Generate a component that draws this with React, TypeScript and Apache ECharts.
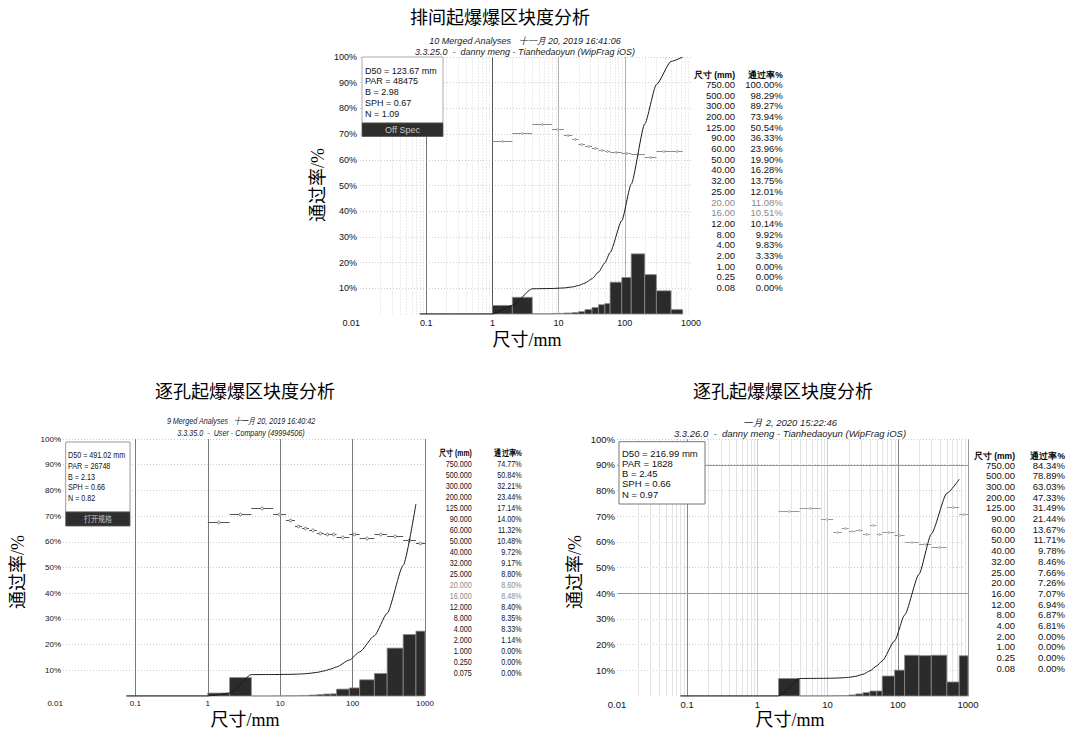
import React, { useEffect, useRef } from 'react';
import * as echarts from 'echarts';

// ---------- shared text ----------
const xTickLabels = ['0.01', '0.1', '1', '10', '100', '1000'];
const tableHeader = ['尺寸 (mm)', '通过率%'];
const axisNameY = '通过率/%';
const axisNameX = '尺寸/mm';
const minorDecades = [0.01, 0.1, 1, 10, 100];
const minorMultipliers = [2, 3, 4, 5, 6, 7, 8, 9];

// ---------- top panel (排间起爆) ----------
const topTitle = '排间起爆爆区块度分析';
const topSub = ['10 Merged Analyses   十一月 20, 2019 16:41:06', '3.3.25.0  -  danny meng - Tianhedaoyun (WipFrag iOS)'];
const topStats = ['D50 = 123.67 mm', 'PAR = 48475', 'B = 2.98', 'SPH = 0.67', 'N = 1.09'];
const topBadge = 'Off Spec';
const topSizes = [750, 500, 300, 200, 125, 90, 60, 50, 40, 32, 25, 20, 16, 12, 8, 4, 2, 1, 0.25, 0.08];
const topPassing = [100, 98.29, 89.27, 73.94, 50.54, 36.33, 23.96, 19.9, 16.28, 13.75, 12.01, 11.08, 10.51, 10.14, 9.92, 9.83, 3.33, 0, 0, 0];
const topBinEdges = [0.08, 0.25, 1, 2, 4, 8, 12, 16, 20, 25, 32, 40, 50, 60, 90, 125, 200, 300, 500, 750];
const topBinHeights = [0, 0, 3.33, 6.5, 0.09, 0.22, 0.37, 0.57, 0.93, 1.74, 2.53, 3.62, 4.06, 12.37, 14.21, 23.4, 15.33, 9.02, 1.71];
const topShape = [null, null, 67.3, 70.3, 73.9, 71.9, 69.6, 68.0, 66.1, 65.4, 64.4, 63.7, 63.3, 63.0, 62.7, 62.1, 60.9, 63.4, 63.4];

// ---------- bottom-left panel (逐孔起爆, 9 merged) ----------
const blTitle = '逐孔起爆爆区块度分析';
const blSub = ['9 Merged Analyses   十一月 20, 2019 16:40:42', '3.3.35.0  -  User - Company (49994506)'];
const blStats = ['D50 = 491.02 mm', 'PAR = 26748', 'B = 2.13', 'SPH = 0.66', 'N = 0.82'];
const blBadge = '打开规格';
const blSizes = [750, 500, 300, 200, 125, 90, 60, 50, 40, 32, 25, 20, 16, 12, 8, 4, 2, 1, 0.25, 0.075];
const blPassing = [74.77, 50.84, 32.21, 23.44, 17.14, 14.0, 11.32, 10.48, 9.72, 9.17, 8.8, 8.6, 8.48, 8.4, 8.35, 8.33, 1.14, 0, 0, 0];
const blBinEdges = [0.075, 0.25, 1, 2, 4, 8, 12, 16, 20, 25, 32, 40, 50, 60, 90, 125, 200, 300, 500, 750, 1000];
const blBinHeights = [0, 0, 1.14, 7.19, 0.02, 0.05, 0.08, 0.12, 0.2, 0.37, 0.55, 0.76, 0.84, 2.68, 3.14, 6.3, 8.77, 18.63, 23.93, 25.23];
const blShape = [null, null, 67.7, 71.0, 73.2, 71.0, 68.4, 66.2, 65.5, 64.4, 63.5, 63.1, 63.1, 61.7, 62.9, 61.3, 62.9, 62.2, 60.6, 59.4];

// ---------- bottom-right panel (逐孔起爆, 一月 2) ----------
const brTitle = '逐孔起爆爆区块度分析';
const brSub = ['一月 2, 2020 15:22:46', '3.3.26.0  -  danny meng - Tianhedaoyun (WipFrag iOS)'];
const brStats = ['D50 = 216.99 mm', 'PAR = 1828', 'B = 2.45', 'SPH = 0.66', 'N = 0.97'];
const brSizes = [750, 500, 300, 200, 125, 90, 60, 50, 40, 32, 25, 20, 16, 12, 8, 4, 2, 1, 0.25, 0.08];
const brPassing = [84.34, 78.89, 63.03, 47.33, 31.49, 21.44, 13.67, 11.71, 9.78, 8.46, 7.66, 7.26, 7.07, 6.94, 6.87, 6.81, 0, 0, 0, 0];
const brBinEdges = [0.08, 0.25, 1, 2, 4, 8, 12, 16, 20, 25, 32, 40, 50, 60, 90, 125, 200, 300, 500, 750, 1000];
const brBinHeights = [0, 0, 0, 6.81, 0.06, 0.07, 0.13, 0.19, 0.4, 0.8, 1.32, 1.93, 1.96, 7.77, 10.05, 15.84, 15.7, 15.86, 5.45, 15.66];
const brShape = [null, null, null, 72.0, 73.0, 68.7, 64.0, 65.3, 64.3, 64.5, 63.2, 66.5, 63.0, 63.8, 62.5, 59.8, 59.1, 58.1, 73.4, 70.7];

// ---------- fonts ----------
const FONT = "'Liberation Sans', Arial, Helvetica, sans-serif";
const SERIF = "'Liberation Serif', 'Times New Roman', 'Noto Sans CJK SC', serif";
const CJK_TITLE = "'Liberation Serif', 'Noto Sans CJK SC', serif";

const panels: any[] = [
  {
    title: topTitle, sub: topSub, stats: topStats, badge: topBadge,
    sizes: topSizes, passing: topPassing, edges: topBinEdges, heights: topBinHeights, shape: topShape,
    digits: 2, grayRows: [20, 16],
    L: {
      grid: { left: 360, top: 57, width: 331, height: 257 },
      font: FONT, axisFs: 9, xMargin: 4, yMargin: 3, alignMin: 'right', showMaxLine: false, sx: 1,
      decadeColor: '#b0b0b0', hGrid: '#cfcfcf', minor: '#d6d6d6', minorDash: [1, 2],
      extra: [
        { lines: [[1, 0, 1, 100]], color: '#555' },
        { lines: [[0.1, 0, 0.1, 70]], color: '#777' },
      ],
      shapeColor: '#8a8a8a', markR: 0.9,
      box: { x: 362, y: 57, w: 81, h: 66, stroke: '#aaa' }, statX: 365, statY: 70.7, statStep: 10.75, statFs: 9,
      badgeRect: { x: 362, y: 123, w: 81, h: 13.5 }, badgeFs: 9,
      table: { hdrY: 74.5, y0: 84.3, step: 10.7, sizeR: 735, pctR: 782.7, fs: 9.5, hdrFs: 8.5 },
      subX: 525, subY: [41, 51.5], subFs: 9,
      titlePos: [500, 18], yNamePos: [318, 185], xNamePos: [527, 340],
    },
  },
  {
    title: blTitle, sub: blSub, stats: blStats, badge: blBadge,
    sizes: blSizes, passing: blPassing, edges: blBinEdges, heights: blBinHeights, shape: blShape,
    digits: 3, grayRows: [20, 16],
    L: {
      grid: { left: 63, top: 439, width: 362, height: 257 },
      font: FONT, axisFs: 8, xMargin: 3, yMargin: 2, alignMin: 'right', showMaxLine: true, sx: 0.8,
      decadeColor: '#7a7a7a', hGrid: '#cfcfcf', minor: null, minorDash: null,
      extra: [],
      shapeColor: '#555', markR: 1.4,
      box: { x: 65.7, y: 442, w: 64.3, h: 70, stroke: '#999' }, statX: 68, statY: 455, statStep: 10.9, statFs: 9,
      badgeRect: { x: 65.7, y: 512, w: 64.3, h: 14 }, badgeFs: 8.5,
      table: { hdrY: 453.3, y0: 464, step: 11.02, sizeR: 471.7, pctR: 521.7, fs: 9, hdrFs: 8.5 },
      subX: 241, subY: [421.5, 433], subFs: 9,
      titlePos: [245, 392], yNamePos: [18, 572], xNamePos: [245, 720],
    },
  },
  {
    title: brTitle, sub: brSub, stats: brStats, badge: null,
    sizes: brSizes, passing: brPassing, edges: brBinEdges, heights: brBinHeights, shape: brShape,
    digits: 2, grayRows: [],
    L: {
      grid: { left: 617, top: 439, width: 351, height: 257 },
      font: FONT, axisFs: 9.5, xMargin: 3, yMargin: 2, alignMin: 'center', showMaxLine: true, sx: 1,
      decadeColor: '#cccccc', hGrid: '#cfcfcf', minor: '#e3e3e3', minorDash: null,
      extra: [
        { lines: [[0.1, 0, 0.1, 100], [100, 0, 100, 100]], color: '#888' },
        { lines: [[1000, 0, 1000, 100], [0.01, 90, 1000, 90], [0.01, 40, 1000, 40]], color: '#9a9a9a' },
      ],
      shapeColor: '#9a9a9a', markR: 0.9,
      box: { x: 619, y: 441.7, w: 86, h: 62.3, stroke: '#777' }, statX: 622, statY: 453.3, statStep: 10.2, statFs: 9.5,
      badgeRect: null, badgeFs: 9,
      table: { hdrY: 455.7, y0: 465, step: 10.7, sizeR: 1015, pctR: 1065, fs: 9.5, hdrFs: 8.5 },
      subX: 790, subY: [422.5, 433.3], subFs: 9.5,
      titlePos: [783, 392], yNamePos: [575, 572], xNamePos: [790, 720],
    },
  },
];

const txt = (x: number, y: number, text: string, o: any = {}) => ({
  type: 'text',
  x, y, z: 100, silent: true,
  rotation: o.rot || 0,
  scaleX: o.sx || 1,
  style: {
    text,
    fontSize: o.fs || 9,
    fontFamily: o.ff || FONT,
    fontWeight: o.fw || 'normal',
    fontStyle: o.it ? 'italic' : 'normal',
    fill: o.c || '#111',
    textAlign: o.a || 'left',
    textVerticalAlign: 'middle',
  },
});

const segSeries = (i: number, data: number[][], color: string, dash: any, z = 1) => ({
  type: 'custom',
  coordinateSystem: 'cartesian2d',
  xAxisIndex: i,
  yAxisIndex: i,
  silent: true,
  z,
  data,
  encode: { x: [0, 2], y: [1, 3] },
  renderItem: (_p: any, api: any) => {
    const a = api.coord([api.value(0), api.value(1)]);
    const b = api.coord([api.value(2), api.value(3)]);
    return {
      type: 'line',
      shape: { x1: Math.round(a[0]) + 0.5, y1: Math.round(a[1]) + 0.5, x2: Math.round(b[0]) + 0.5, y2: Math.round(b[1]) + 0.5 },
      style: { stroke: color, lineWidth: 1, lineDash: dash || null },
    };
  },
});

function buildOption() {
  const grid: any[] = [];
  const xAxis: any[] = [];
  const yAxis: any[] = [];
  const series: any[] = [];
  const elements: any[] = [];

  const minorValues: number[] = [];
  minorDecades.forEach((d) => minorMultipliers.forEach((m) => minorValues.push(+(d * m).toPrecision(3))));

  panels.forEach((p, i) => {
    const L = p.L;
    grid.push({ ...L.grid });
    xAxis.push({
      type: 'log', logBase: 10, gridIndex: i, min: 0.01, max: 1000,
      axisLine: { show: false }, axisTick: { show: false },
      axisLabel: {
        formatter: (v: number) => xTickLabels[Math.round(Math.log10(v)) + 2] ?? '',
        fontSize: L.axisFs, fontFamily: L.font, color: '#111', margin: L.xMargin,
        alignMinLabel: L.alignMin, showMinLabel: true, showMaxLabel: true,
      },
      splitLine: { show: true, showMinLine: false, showMaxLine: L.showMaxLine, lineStyle: { color: L.decadeColor, width: 1 } },
    });
    yAxis.push({
      type: 'value', gridIndex: i, min: 0, max: 100, interval: 10,
      axisLine: { show: false }, axisTick: { show: false },
      axisLabel: {
        formatter: (v: number) => (v === 0 ? '' : v + '%'),
        fontSize: L.axisFs, fontFamily: L.font, color: '#111', margin: L.yMargin,
      },
      splitLine: { show: true, showMinLine: false, lineStyle: { color: L.hGrid, type: [1, 2], width: 1 } },
    });

    if (L.minor) {
      series.push(segSeries(i, minorValues.map((v) => [v, 0, v, 100]), L.minor, L.minorDash, 0));
    }
    L.extra.forEach((g: any) => series.push(segSeries(i, g.lines, g.color, null, 1)));

    // histogram
    series.push({
      type: 'custom', coordinateSystem: 'cartesian2d', xAxisIndex: i, yAxisIndex: i, z: 3, silent: true,
      data: p.heights.map((h: number, k: number) => [p.edges[k], p.edges[k + 1], h]),
      encode: { x: [0, 1], y: 2 },
      renderItem: (_pp: any, api: any) => {
        const a = api.coord([api.value(0), api.value(2)]);
        const b = api.coord([api.value(1), 0]);
        return {
          type: 'rect',
          shape: { x: a[0], y: a[1], width: b[0] - a[0], height: b[1] - a[1] },
          style: { fill: '#2b2b2b', stroke: '#8a8a8a', lineWidth: 0.8 },
        };
      },
    });

    // cumulative passing curve
    series.push({
      type: 'line', xAxisIndex: i, yAxisIndex: i, z: 5, silent: true,
      data: p.sizes.map((s: number, k: number) => [s, p.passing[k]]).reverse(),
      showSymbol: false, symbol: 'none', smooth: 0.2, smoothMonotone: 'x',
      lineStyle: { color: '#1a1a1a', width: 1 },
    });

    // shape / interval dashes
    series.push({
      type: 'custom', coordinateSystem: 'cartesian2d', xAxisIndex: i, yAxisIndex: i, z: 4, silent: true,
      data: p.shape
        .map((v: any, k: number) => (v == null ? null : [p.edges[k], p.edges[k + 1], v]))
        .filter((d: any) => d),
      encode: { x: [0, 1], y: 2 },
      renderItem: (_pp: any, api: any) => {
        const a = api.coord([api.value(0), api.value(2)]);
        const b = api.coord([api.value(1), api.value(2)]);
        const y = Math.round(a[1]) + 0.5;
        const mx = (a[0] + b[0]) / 2;
        return {
          type: 'group',
          children: [
            { type: 'line', shape: { x1: a[0], y1: y, x2: b[0], y2: y }, style: { stroke: L.shapeColor, lineWidth: 1 } },
            { type: 'circle', shape: { cx: mx, cy: y, r: L.markR }, style: { fill: '#fff', stroke: L.shapeColor, lineWidth: 0.8 } },
          ],
        };
      },
    });

    // titles & axis names
    elements.push(txt(L.titlePos[0], L.titlePos[1], p.title, { fs: 18, ff: CJK_TITLE, a: 'center', c: '#000' }));
    elements.push(txt(L.yNamePos[0], L.yNamePos[1], axisNameY, { fs: 18, ff: SERIF, a: 'center', c: '#000', rot: Math.PI / 2 }));
    elements.push(txt(L.xNamePos[0], L.xNamePos[1], axisNameX, { fs: 18, ff: SERIF, a: 'center', c: '#000' }));
    p.sub.forEach((s: string, k: number) =>
      elements.push(txt(L.subX, L.subY[k], s, { fs: L.subFs, ff: L.font, a: 'center', it: true, c: '#222', sx: L.sx }))
    );

    // info box
    elements.push({
      type: 'rect', z: 90, silent: true,
      shape: { x: L.box.x, y: L.box.y, width: L.box.w, height: L.box.h },
      style: { fill: '#fff', stroke: L.box.stroke, lineWidth: 1 },
    });
    p.stats.forEach((s: string, k: number) =>
      elements.push(txt(L.statX, L.statY + k * L.statStep, s, { fs: L.statFs, ff: L.font, c: '#111', sx: L.sx }))
    );
    if (p.badge && L.badgeRect) {
      const r = L.badgeRect;
      elements.push({
        type: 'rect', z: 95, silent: true,
        shape: { x: r.x, y: r.y, width: r.w, height: r.h },
        style: { fill: '#2e2e2e', stroke: '#555', lineWidth: 0.8 },
      });
      elements.push(txt(r.x + r.w / 2, r.y + r.h / 2, p.badge, { fs: L.badgeFs, ff: L.font, a: 'center', c: '#c8c8c8', sx: L.sx }));
    }

    // table
    const T = L.table;
    elements.push(txt(T.sizeR, T.hdrY, tableHeader[0], { fs: T.hdrFs, ff: L.font, a: 'right', fw: 'bold', c: '#000', sx: L.sx }));
    elements.push(txt(T.pctR, T.hdrY, tableHeader[1], { fs: T.hdrFs, ff: L.font, a: 'right', fw: 'bold', c: '#000', sx: L.sx }));
    p.sizes.forEach((s: number, k: number) => {
      const c = p.grayRows.includes(s) ? '#8a8a8a' : '#111';
      const y = T.y0 + k * T.step;
      elements.push(txt(T.sizeR, y, s.toFixed(p.digits), { fs: T.fs, ff: L.font, a: 'right', c, sx: L.sx }));
      elements.push(txt(T.pctR, y, p.passing[k].toFixed(2) + '%', { fs: T.fs, ff: L.font, a: 'right', c, sx: L.sx }));
    });
  });

  return {
    animation: false,
    backgroundColor: '#fff',
    grid, xAxis, yAxis, series,
    graphic: { elements },
  };
}

export default function App() {
  const ref = useRef<HTMLDivElement>(null);
  useEffect(() => {
    if (!ref.current) return;
    const chart = echarts.init(ref.current, null, { renderer: 'svg' });
    chart.setOption(buildOption() as any);
    return () => chart.dispose();
  }, []);
  return (
    <div
      ref={ref}
      style={{ position: 'absolute', left: 0, top: 0, width: 1080, height: 733, background: '#fff' }}
    />
  );
}
